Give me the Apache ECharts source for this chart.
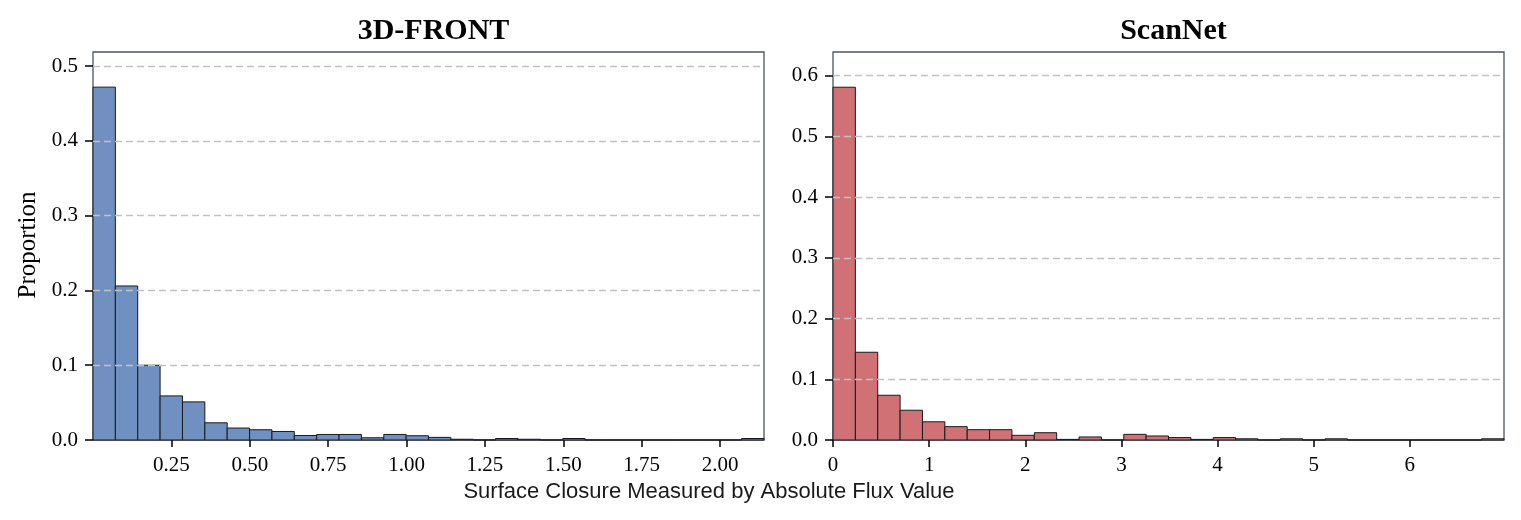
<!DOCTYPE html>
<html>
<head>
<meta charset="utf-8">
<script src="https://cdn.jsdelivr.net/npm/echarts@6/dist/echarts.min.js"></script>
<style>html,body{margin:0;padding:0;background:#fff;}#c{width:1521px;height:520px;}</style>
</head>
<body>
<div id="c"></div>
<script>
// ---- data ----
const frontRange = [0, 2.14];      // histogram range (x)
const frontValues = [0.472, 0.206, 0.100, 0.059, 0.051, 0.023, 0.016, 0.0137, 0.0114, 0.006,
  0.0074, 0.0074, 0.003, 0.0074, 0.0057, 0.0035, 0.001, 0, 0.002, 0.001,
  0, 0.002, 0, 0, 0, 0, 0, 0, 0, 0.002];
const scanRange = [0, 6.98];
const scanValues = [0.581, 0.1445, 0.0737, 0.049, 0.030, 0.022, 0.017, 0.017, 0.0077, 0.012,
  0.001, 0.005, 0, 0.0093, 0.0066, 0.004, 0.001, 0.004, 0.002, 0,
  0.002, 0, 0.002, 0, 0, 0, 0, 0, 0, 0.002];
const frontXTicks = [0.25, 0.5, 0.75, 1.0, 1.25, 1.5, 1.75, 2.0];
const scanXTicks = [0, 1, 2, 3, 4, 5, 6];
const frontYTicks = [0, 0.1, 0.2, 0.3, 0.4, 0.5];
const scanYTicks = [0, 0.1, 0.2, 0.3, 0.4, 0.5, 0.6];
const titles = ['3D-FRONT', 'ScanNet'];
const xLabel = 'Surface Closure Measured by Absolute Flux Value';
const yLabel = 'Proportion';

function bins(range, values) {
  const w = (range[1] - range[0]) / values.length;
  return values.map((v, i) => [range[0] + i * w, range[0] + (i + 1) * w, v]);
}

const serif = 'Liberation Serif';
const chart = echarts.init(document.getElementById('c'), null, {renderer: 'canvas'});

function xAxis(idx, range, ticks, fmt) {
  return {
    type: 'value', gridIndex: idx, min: range[0], max: range[1],
    axisLine: {show: false},
    axisTick: {show: true, length: 7, customValues: ticks, lineStyle: {color: '#000', width: 1.5}},
    axisLabel: {customValues: ticks, formatter: fmt, color: '#000', fontFamily: serif, fontSize: 21, margin: 15},
    splitLine: {show: false}
  };
}
function yAxis(idx, max, ticks) {
  return {
    type: 'value', gridIndex: idx, min: 0, max: max, interval: 0.1, z: 5,
    axisLine: {show: false},
    axisTick: {show: true, length: 8, customValues: ticks, lineStyle: {color: '#000', width: 1.5}},
    axisLabel: {customValues: ticks, formatter: v => v.toFixed(1), color: '#000', fontFamily: serif, fontSize: 21, margin: 15},
    splitLine: {show: true, showMinLine: false, showMaxLine: true, lineStyle: {color: '#c2c2c2', type: [7, 4], width: 1.3}}
  };
}
function histSeries(idx, data, color) {
  return {
    type: 'custom', xAxisIndex: idx, yAxisIndex: idx, data: data, z: 2,
    renderItem: function (params, api) {
      const p0 = api.coord([api.value(0), api.value(2)]);
      const p1 = api.coord([api.value(1), 0]);
      return {
        type: 'rect',
        shape: {x: p0[0], y: p0[1], width: p1[0] - p0[0], height: p1[1] - p0[1]},
        style: {fill: color, stroke: '#1a1a1a', lineWidth: 1}
      };
    },
    encode: {x: [0, 1], y: 2}
  };
}

chart.setOption({
  animation: false,
  backgroundColor: '#fff',
  title: [
    {text: titles[0], left: 428.5, top: 11, textAlign: 'center', textStyle: {fontFamily: serif, fontWeight: 'bold', fontSize: 30, color: '#000'}},
    {text: titles[1], left: 1168.5, top: 11, textAlign: 'center', textStyle: {fontFamily: serif, fontWeight: 'bold', fontSize: 30, color: '#000'}}
  ],
  grid: [
    {left: 93, top: 52, width: 671, height: 388, show: true, borderColor: '#4a5666', borderWidth: 1.3, backgroundColor: 'transparent'},
    {left: 833, top: 52, width: 671, height: 388, show: true, borderColor: '#4a5666', borderWidth: 1.3, backgroundColor: 'transparent'}
  ],
  xAxis: [
    xAxis(0, frontRange, frontXTicks, v => v.toFixed(2)),
    xAxis(1, scanRange, scanXTicks, v => String(Math.round(v)))
  ],
  yAxis: [
    yAxis(0, 0.519, frontYTicks),
    yAxis(1, 0.639, scanYTicks)
  ],
  series: [
    histSeries(0, bins(frontRange, frontValues), '#7090c2'),
    histSeries(1, bins(scanRange, scanValues), '#d07176')
  ],
  graphic: [
    {type: 'text', x: 28, y: 245, rotation: Math.PI / 2, style: {text: yLabel, fontFamily: serif, fontSize: 25, fill: '#000', align: 'center', verticalAlign: 'middle'}},
    {type: 'text', x: 709, y: 492, style: {text: xLabel, fontFamily: 'Liberation Sans', fontSize: 22, fill: '#1a1a1a', align: 'center', verticalAlign: 'middle'}}
  ]
});
</script>
</body>
</html>
